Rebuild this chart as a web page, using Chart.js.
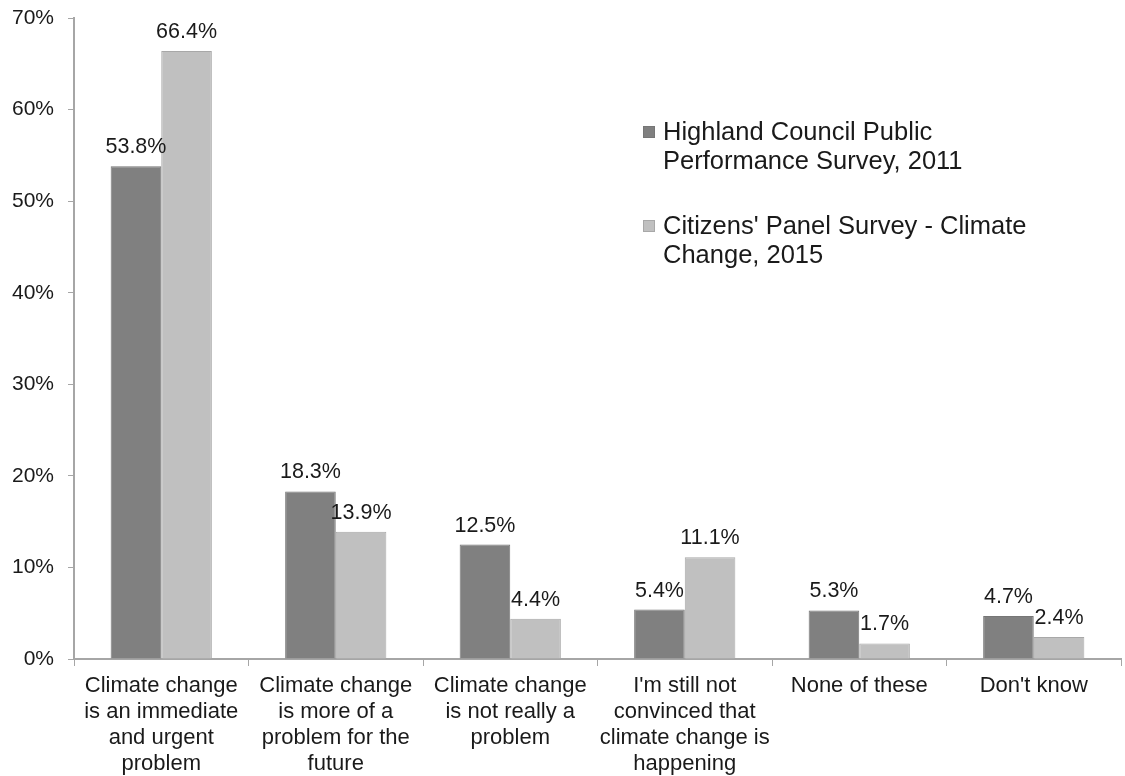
<!DOCTYPE html>
<html>
<head>
<meta charset="utf-8">
<script src="https://cdn.jsdelivr.net/npm/chart.js@4/dist/chart.umd.min.js"></script>
<style>
  html, body { margin: 0; padding: 0; background: #fff; }
  #wrap { width: 1125px; height: 776px; }
</style>
</head>
<body>
<div id="wrap"><canvas id="climateChart"></canvas></div>
<script>
const categories = [
    ['Climate change', 'is an immediate', 'and urgent', 'problem'],
    ['Climate change', 'is more of a', 'problem for the', 'future'],
    ['Climate change', 'is not really a', 'problem'],
    ["I'm still not", 'convinced that', 'climate change is', 'happening'],
    ['None of these'],
    ["Don't know"]
];
const highland2011 = [53.8, 18.3, 12.5, 5.4, 5.3, 4.7];
const citizens2015 = [66.4, 13.9, 4.4, 11.1, 1.7, 2.4];
const seriesNames = [
    ['Highland Council Public', 'Performance Survey, 2011'],
    ["Citizens' Panel Survey - Climate", 'Change, 2015']
];
const yTicks = [0, 10, 20, 30, 40, 50, 60, 70];

const FONT = '"Liberation Sans", Arial, sans-serif';

// labels au-dessus des barres
const valueLabels = {
    id: 'valueLabels',
    afterDatasetsDraw(chart) {
        const ctx = chart.ctx;
        ctx.save();
        ctx.font = '21.5px ' + FONT;
        ctx.fillStyle = '#1a1a1a';
        ctx.textAlign = 'center';
        ctx.textBaseline = 'alphabetic';
        chart.data.datasets.forEach((ds, i) => {
            chart.getDatasetMeta(i).data.forEach((bar, j) => {
                ctx.fillText(ds.data[j].toFixed(1) + '%', bar.x, bar.y - 13);
            });
        });
        ctx.restore();
    }
};

// legende sur deux lignes dans la zone du graphique
const boxLegend = {
    id: 'boxLegend',
    afterDraw(chart) {
        const ctx = chart.ctx;
        ctx.save();
        ctx.font = '25.5px ' + FONT;
        ctx.textBaseline = 'middle';
        const x = 643, tops = [132, 226];
        chart.data.datasets.forEach((ds, i) => {
            const y = tops[i];
            ctx.fillStyle = ds.backgroundColor;
            ctx.fillRect(x, y - 6, 12, 12);
            ctx.strokeStyle = ds.borderColor;
            ctx.lineWidth = 1;
            ctx.strokeRect(x + 0.5, y - 5.5, 11, 11);
            ctx.fillStyle = '#1a1a1a';
            seriesNames[i].forEach((line, k) => {
                ctx.fillText(line, x + 20, y + 1 + k * 28.5);
            });
        });
        ctx.restore();
    }
};

const ctx = document.getElementById('climateChart').getContext('2d');
const chart = new Chart(ctx, {
    type: 'bar',
    data: {
        labels: categories,
        datasets: [{
            label: seriesNames[0].join(' '),
            data: highland2011,
            backgroundColor: '#808080',
            borderColor: '#767676',
            borderWidth: 1
        }, {
            label: seriesNames[1].join(' '),
            data: citizens2015,
            backgroundColor: '#c0c0c0',
            borderColor: '#a8a8a8',
            borderWidth: 1
        }]
    },
    options: {
        responsive: true,
        maintainAspectRatio: false,
        animation: false,
        layout: { padding: { top: 18, right: 4, bottom: 0, left: 0 } },
        datasets: { bar: { categoryPercentage: 0.58, barPercentage: 1 } },
        plugins: {
            legend: { display: false },
            tooltip: { enabled: false }
        },
        scales: {
            x: {
                grid: { offset: true, drawOnChartArea: false, color: '#a6a6a6', tickLength: 7 },
                border: { color: '#a6a6a6', width: 2 },
                ticks: {
                    color: '#1a1a1a',
                    font: { family: FONT, size: 22, lineHeight: 1.18 },
                    padding: 7,
                    maxRotation: 0,
                    autoSkip: false
                },
                afterFit(scale) { scale.height = 117; }
            },
            y: {
                min: 0,
                max: 70,
                afterBuildTicks(scale) { scale.ticks = yTicks.map(v => ({ value: v })); },
                grid: { drawOnChartArea: false, color: '#a6a6a6', tickLength: 6 },
                border: { color: '#a6a6a6', width: 2 },
                ticks: {
                    color: '#1a1a1a',
                    font: { family: FONT, size: 21 },
                    padding: 14,
                    callback: v => v + '%'
                },
                afterFit(scale) {
                    scale.width = 74;
                    scale.paddingTop = 0;
                    scale.paddingBottom = 0;
                }
            }
        }
    },
    plugins: [valueLabels, boxLegend]
});
</script>
</body>
</html>
